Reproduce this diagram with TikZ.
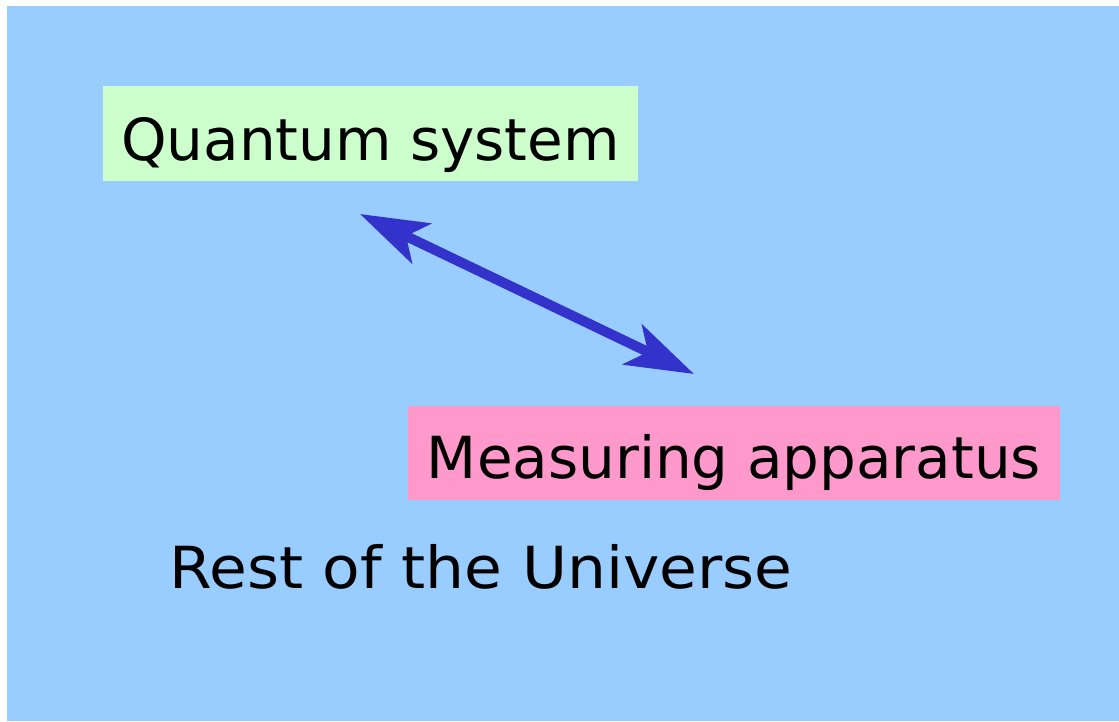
\documentclass[tikz,border=0pt]{standalone}
\usepackage{fontspec}
\setmainfont{DejaVu Sans}
\usetikzlibrary{arrows.meta}
\definecolor{bgblue}{HTML}{99CCFF}
\definecolor{qgreen}{HTML}{CCFFCC}
\definecolor{mpink}{HTML}{FF99CC}
\definecolor{arrowblue}{HTML}{3333CC}
\tikzset{
  lbl/.style={font=\fontsize{58}{64}\selectfont, text=black, inner sep=0pt, anchor=base},
  link/.style={draw=arrowblue, line width=10pt,
    {Stealth[length=68pt,width=44pt,inset=17pt]}-{Stealth[length=68pt,width=44pt,inset=17pt]}}
}
\begin{document}
\begin{tikzpicture}[x=1pt,y=-1pt]
\useasboundingbox (0,0) rectangle (1119,721);
\fill[bgblue] (7,6) rectangle (1119,721);
\node[lbl, fill=qgreen, minimum width=535pt, text height=74pt, text depth=21pt] (qs) at (370.5,160) {Quantum system};
\node[lbl, fill=mpink, minimum width=652pt, text height=72pt, text depth=22pt] (ma) at (734,478) {Measuring apparatus};
\node[lbl] (ru) at (481,588) {\scalebox{1.06}[1]{Rest of the Universe}};
\coordinate (a) at (360,214);
\coordinate (b) at (694,374);
\draw[link] (a) -- (b);
\end{tikzpicture}
\end{document}
